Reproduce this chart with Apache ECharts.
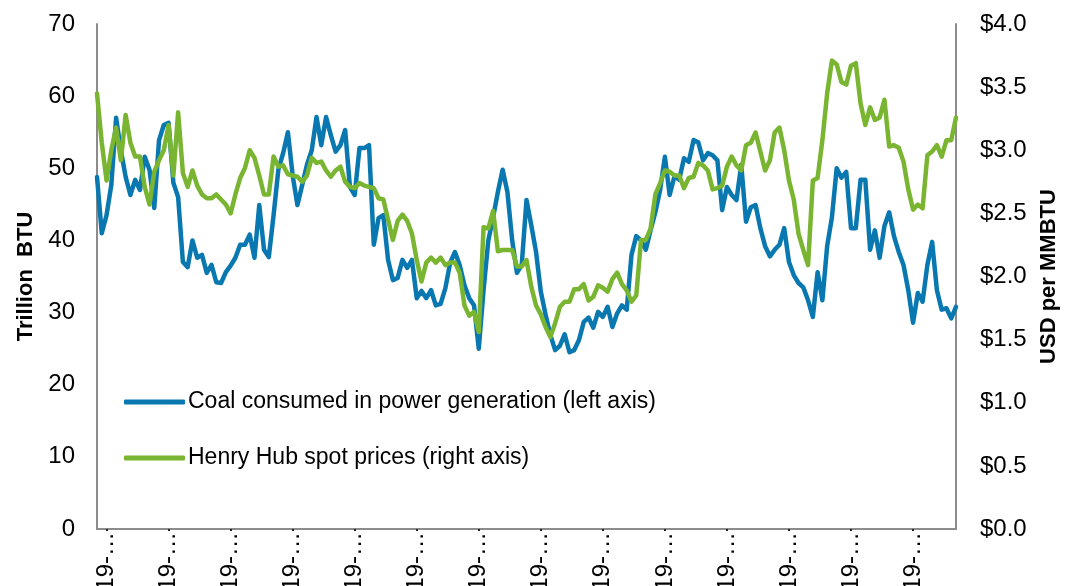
<!DOCTYPE html>
<html>
<head>
<meta charset="utf-8">
<script src="https://cdn.jsdelivr.net/npm/echarts@6/dist/echarts.min.js"></script>
<style>
  html, body { margin: 0; padding: 0; background: #fff; }
  #main { width: 1069px; height: 586px; }
</style>
</head>
<body>
<div id="main"></div>
<script>
// coal burned for power, trillion BTU (left axis)
var coal = [
  48.8, 41.0, 43.5, 47.7, 57.0, 52.5, 48.8, 46.3, 48.4, 47.0,
  51.6, 49.8, 44.5, 53.9, 56.0, 56.3, 48.0, 46.0, 37.0, 36.3,
  40.0, 37.6, 38.0, 35.5, 36.6, 34.2, 34.1, 35.6, 36.5, 37.6,
  39.4, 39.4, 40.8, 37.6, 44.9, 38.7, 37.7, 43.5, 49.8, 52.1,
  55.0, 49.0, 44.9, 47.7, 50.5, 52.5, 57.1, 53.2, 57.1, 54.6,
  52.3, 53.2, 55.3, 47.4, 46.3, 52.8, 52.8, 53.2, 39.4, 43.1,
  43.5, 37.3, 34.5, 34.8, 37.3, 36.2, 37.3, 32.0, 33.0, 32.0,
  33.1, 31.0, 31.2, 33.4, 36.9, 38.4, 36.6, 33.8, 32.0, 31.0,
  25.0, 33.1, 40.0, 43.2, 46.7, 49.8, 46.7, 40.0, 35.5, 36.6,
  45.6, 42.1, 38.4, 32.9, 29.7, 26.9, 24.8, 25.4, 27.0, 24.5,
  24.8, 26.2, 28.7, 29.3, 27.9, 30.1, 29.4, 30.8, 28.0, 29.9,
  31.0, 30.4, 38.0, 40.6, 40.0, 38.7, 41.4, 43.9, 47.0, 51.6,
  46.3, 48.9, 48.4, 51.4, 50.9, 53.9, 53.6, 51.1, 52.1, 51.8,
  51.1, 44.2, 47.4, 46.3, 45.6, 50.5, 42.6, 44.6, 44.9, 41.7,
  39.2, 37.8, 38.7, 39.4, 41.7, 37.0, 35.2, 34.1, 33.5, 31.7,
  29.4, 35.6, 31.7, 39.2, 43.2, 50.0, 48.7, 49.5, 41.7, 41.7,
  48.4, 48.4, 38.7, 41.4, 37.6, 42.0, 43.9, 40.6, 38.4, 36.6,
  33.1, 28.6, 32.7, 31.5, 36.6, 39.8, 33.1, 30.4, 30.6, 29.2,
  30.8
];

// Henry Hub spot, USD per MMBTU (right axis)
var henryHub = [
  3.45, 3.06, 2.76, 3.00, 3.18, 2.92, 3.28, 3.06, 2.95, 2.95,
  2.71, 2.57, 2.83, 2.92, 3.00, 3.20, 2.80, 3.30, 2.82, 2.71,
  2.84, 2.72, 2.65, 2.62, 2.62, 2.65, 2.61, 2.57, 2.50, 2.65,
  2.78, 2.86, 3.00, 2.94, 2.80, 2.65, 2.65, 2.95, 2.87, 2.88,
  2.81, 2.80, 2.79, 2.75, 2.80, 2.94, 2.90, 2.91, 2.84, 2.79,
  2.84, 2.87, 2.75, 2.71, 2.70, 2.74, 2.72, 2.71, 2.70, 2.62,
  2.61, 2.45, 2.29, 2.44, 2.49, 2.44, 2.34, 2.13, 1.96, 2.11,
  2.15, 2.11, 2.15, 2.09, 2.11, 2.11, 2.03, 1.77, 1.69, 1.72,
  1.56, 2.39, 2.38, 2.52, 2.20, 2.21, 2.21, 2.21, 2.08, 2.08,
  2.13, 1.92, 1.77, 1.70, 1.60, 1.52, 1.63, 1.76, 1.80, 1.80,
  1.90, 1.90, 1.94, 1.81, 1.84, 1.93, 1.91, 1.88, 1.98, 2.03,
  1.94, 1.89, 1.80, 1.85, 2.29, 2.29, 2.38, 2.65, 2.74, 2.84,
  2.83, 2.80, 2.80, 2.70, 2.78, 2.79, 2.90, 2.88, 2.84, 2.69,
  2.70, 2.72, 2.87, 2.95, 2.88, 2.84, 3.04, 3.06, 3.14, 2.99,
  2.84, 2.92, 3.14, 3.18, 3.00, 2.76, 2.61, 2.34, 2.21, 2.09,
  2.76, 2.78, 3.08, 3.45, 3.71, 3.68, 3.54, 3.52, 3.67, 3.69,
  3.37, 3.20, 3.34, 3.24, 3.26, 3.40, 3.03, 3.04, 3.02, 2.91,
  2.69, 2.53, 2.57, 2.54, 2.96, 2.99, 3.04, 2.95, 3.08, 3.08,
  3.26
];

// x labels come out of the source cut short, one every 13 points from point 2
var tickLabels = ['19-…', '19-…', '19-…', '19-…', '19-…', '19-…', '19-…',
                  '19-…', '19-…', '19-…', '19-…', '19-…', '19-…', '19-…'];
var firstTick = 2, tickStep = 13;

var periods = coal.map(function (v, i) { return String(i); });

var FONT = "'Liberation Sans', Arial, sans-serif";
var AXIS_GREY = '#8c8c8c';

function isTick(i) {
  return i >= firstTick && (i - firstTick) % tickStep === 0;
}

var chart = echarts.init(document.getElementById('main'));
chart.setOption({
  animation: false,
  grid: { left: 97, right: 113, top: 24, bottom: 57, containLabel: false, outerBoundsMode: 'none' },
  legend: {
    orient: 'vertical',
    left: 119,
    top: 385,
    itemWidth: 61,
    itemHeight: 5,
    itemGap: 32,
    icon: 'roundRect',
    textStyle: { fontFamily: FONT, fontSize: 23, color: '#000', lineHeight: 24, padding: [0, 0, 0, -2] },
    data: ['Coal consumed in power generation (left axis)', 'Henry Hub spot prices (right axis)']
  },
  xAxis: {
    type: 'category',
    data: periods,
    boundaryGap: false,
    axisLine: { lineStyle: { color: AXIS_GREY, width: 2 } },
    axisTick: {
      interval: function (i) { return isTick(i); },
      length: 2,
      lineStyle: { color: '#222', width: 2 }
    },
    axisLabel: {
      interval: function (i) { return isTick(i); },
      formatter: function (v, i) { return tickLabels[(i - firstTick) / tickStep] || ''; },
      rotate: 90,
      margin: 3,
      fontFamily: FONT,
      fontSize: 24,
      color: '#000'
    },
    splitLine: { show: false }
  },
  yAxis: [{
    type: 'value',
    min: 0, max: 70, interval: 10,
    name: 'Trillion  BTU',
    nameLocation: 'middle',
    nameRotate: 90,
    nameGap: 58,
    nameTextStyle: { fontFamily: FONT, fontSize: 22, fontWeight: 'bold', color: '#000' },
    axisLine: { show: true, lineStyle: { color: AXIS_GREY, width: 2 } },
    axisTick: { show: false },
    axisLabel: { fontFamily: FONT, fontSize: 24, color: '#000', margin: 22 },
    splitLine: { show: false }
  }, {
    type: 'value',
    position: 'right',
    min: 0, max: 4, interval: 0.5,
    name: 'USD per MMBTU',
    nameLocation: 'middle',
    nameRotate: 90,
    nameGap: 82,
    nameTextStyle: { fontFamily: FONT, fontSize: 22, fontWeight: 'bold', color: '#000' },
    axisLine: { show: true, lineStyle: { color: AXIS_GREY, width: 2 } },
    axisTick: { show: false },
    axisLabel: {
      fontFamily: FONT, fontSize: 24, color: '#000', margin: 24,
      formatter: function (v) { return '$' + v.toFixed(1); }
    },
    splitLine: { show: false }
  }],
  series: [{
    name: 'Coal consumed in power generation (left axis)',
    type: 'line',
    yAxisIndex: 0,
    data: coal,
    showSymbol: false,
    itemStyle: { color: '#0a78b0' },
    lineStyle: { color: '#0a78b0', width: 4.5, join: 'round', cap: 'round' }
  }, {
    name: 'Henry Hub spot prices (right axis)',
    type: 'line',
    yAxisIndex: 1,
    data: henryHub,
    showSymbol: false,
    itemStyle: { color: '#79b531' },
    lineStyle: { color: '#79b531', width: 4.5, join: 'round', cap: 'round' }
  }]
});
</script>
</body>
</html>
